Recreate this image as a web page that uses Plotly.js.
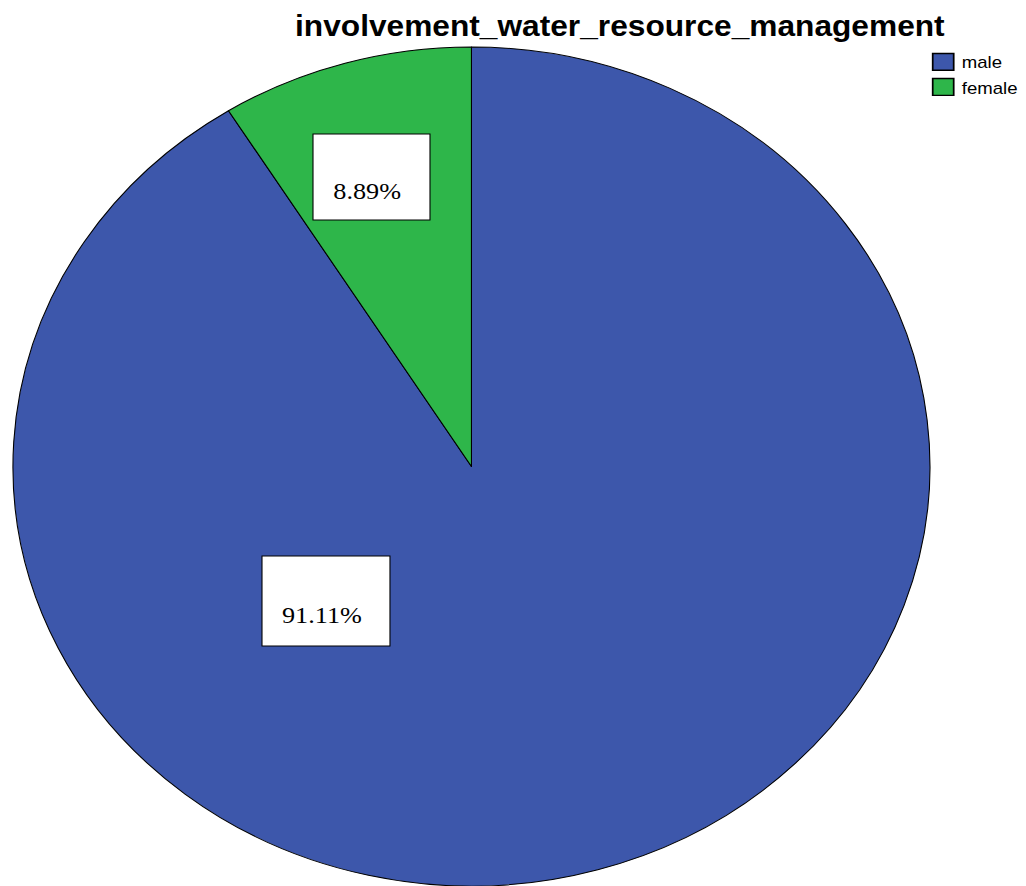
<!DOCTYPE html>
<html>
<head>
<meta charset="utf-8">
<script src="https://cdn.plot.ly/plotly-3.0.1.min.js"></script>
<style>
    body { margin: 0; background: #ffffff; overflow: hidden; }
    /* the original picture is stretched sideways, so the whole plot is too */
    #chart { width: 939px; height: 886px; transform: scaleX(1.0929); transform-origin: 0 0; }
</style>
</head>
<body>
<div id="chart"></div>
<script>
// data ------------------------------------------------------
var groups = ['male', 'female'];
var counts = [82, 8];
var groupColors = ['#3D57AB', '#2EB64A'];

// percent labels from the counts
var total = counts[0] + counts[1];
var percentText = counts.map(function(c) {
    return (c / total * 100).toFixed(2) + '%';
});

// the pie itself
var pieData = {
    type: 'pie',
    labels: groups,
    values: counts,
    sort: false,
    direction: 'clockwise',
    rotation: 0,
    textinfo: 'none',
    hoverinfo: 'label+percent',
    marker: {
        colors: groupColors,
        line: { color: '#000000', width: 1 }
    },
    domain: { x: [0.0121, 0.9067], y: [0, 0.947] }
};

// white label boxes, SPSS style
var boxStyle = { type: 'rect', xref: 'paper', yref: 'paper', fillcolor: '#ffffff', line: { color: '#000000', width: 1 } };
var shapes = [
    Object.assign({ x0: 0.2553, x1: 0.3800, y0: 0.2709, y1: 0.3725 }, boxStyle),
    Object.assign({ x0: 0.3050, x1: 0.4190, y0: 0.7517, y1: 0.8488 }, boxStyle)
];
var labelFont = { family: 'Liberation Serif, Times New Roman, serif', size: 24, color: '#000000' };
var annotations = [
    { text: percentText[0], x: 0.3133, y: 0.3059, xref: 'paper', yref: 'paper',
      xanchor: 'center', yanchor: 'middle', showarrow: false, font: labelFont },
    { text: percentText[1], x: 0.3580, y: 0.7844, xref: 'paper', yref: 'paper',
      xanchor: 'center', yanchor: 'middle', showarrow: false, font: labelFont }
];

var layout = {
    width: 939,
    height: 886,
    margin: { l: 0, r: 0, t: 0, b: 0 },
    paper_bgcolor: '#ffffff',
    title: {
        text: 'involvement_water_resource_management',
        font: { family: 'Liberation Sans, Arial, sans-serif', size: 29, color: '#000000', weight: 'bold' },
        x: 0.604,
        xanchor: 'center',
        y: 0.9707,
        yanchor: 'middle'
    },
    showlegend: true,
    legend: {
        x: 0.8946,
        xanchor: 'left',
        y: 0.9500,
        yanchor: 'top',
        tracegroupgap: 0,
        font: { family: 'Liberation Sans, Arial, sans-serif', size: 17, color: '#000000' },
        bgcolor: 'rgba(0,0,0,0)'
    },
    shapes: shapes,
    annotations: annotations
};

var config = { responsive: false, displayModeBar: false };
Plotly.newPlot('chart', [pieData], layout, config).then(function() {
    // bigger legend squares, like the SPSS ones
    document.querySelectorAll('.legendpoints path.legendpie').forEach(function(p) {
        p.setAttribute('transform', 'translate(23,0) scale(1.6,1.4)');
    });
});
</script>
</body>
</html>
